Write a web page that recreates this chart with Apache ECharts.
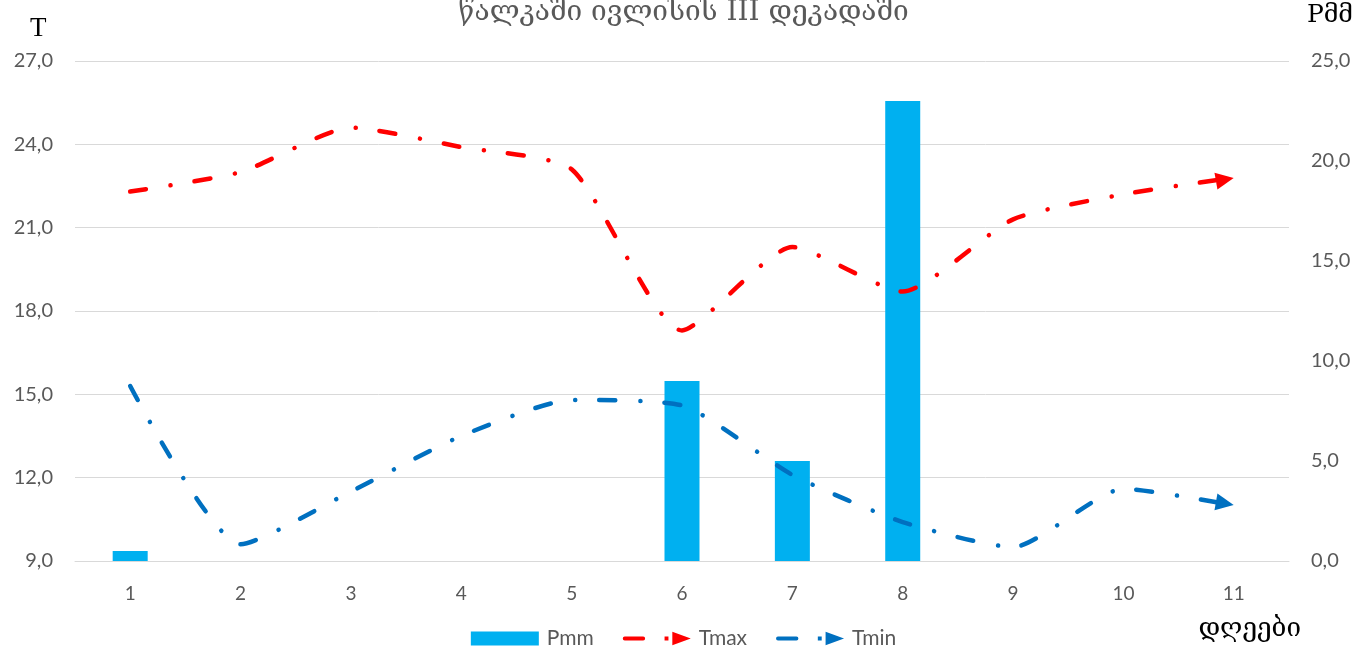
<!DOCTYPE html>
<html>
<head>
<meta charset="utf-8">
<title>წალკაში ივლისის III დეკადაში</title>
<script src="https://cdn.jsdelivr.net/npm/echarts@6/dist/echarts.min.js"></script>
<style>
  html, body { margin: 0; padding: 0; background: #fff; }
  #main { width: 1367px; height: 654px; }
</style>
</head>
<body>
<div id="main"></div>
<script>
// days of the third decade of July
var days = ['1', '2', '3', '4', '5', '6', '7', '8', '9', '10', '11'];
// precipitation, mm (right axis)
var pmm = [0.5, 0, 0, 0, 0, 9.0, 5.0, 23.0, 0, 0, 0];
// max / min temperature (left axis)
var tmax = [22.3, 23.0, 24.6, 23.9, 23.1, 17.3, 20.3, 18.7, 21.3, 22.2, 22.8];
var tmin = [15.3, 9.6, 11.5, 13.5, 14.8, 14.6, 12.1, 10.4, 9.5, 11.6, 11.0];

var labelFont = 'Lato, "Open Sans", sans-serif';
var georgianFont = '"DejaVu Serif", "DejaVu Sans", serif';
var dashDot = [16, 25, 0.1, 24];
// legend glyph: dash, dot, arrow head
var lineIcon = 'path://M2,5h19a2,2 0 0 1 0,4h-19a2,2 0 0 1 0,-4z M43,5h4v4h-4z M51,0L70,7L51,14z';

function comma(v) {
    return v.toFixed(1).replace('.', ',');
}

// only the last point gets an arrow head, tip sitting on the point
function withArrow(arr, rot, off) {
    return arr.map(function (v, i) {
        if (i < arr.length - 1) return v;
        return {
            value: v,
            symbol: 'triangle',
            symbolSize: [17, 18],
            symbolRotate: rot,
            symbolOffset: off
        };
    });
}

var myChart = echarts.init(document.getElementById('main'));

var option = {
    animation: false,
    title: {
        text: 'წალკაში ივლისის III დეკადაში',
        left: 'center',
        top: -6,
        textStyle: {
            fontFamily: georgianFont,
            fontWeight: 'normal',
            fontSize: 28,
            color: '#595959'
        }
    },
    grid: {
        left: 75,
        right: 78,
        top: 61,
        bottom: 93
    },
    legend: {
        bottom: 0,
        left: 'center',
        itemWidth: 68,
        itemHeight: 14,
        itemGap: 29,
        textStyle: {
            fontFamily: labelFont,
            fontSize: 21,
            color: '#595959',
            padding: [0, 0, 0, 3]
        },
        data: [
            { name: 'Pmm', icon: 'rect' },
            { name: 'Tmax', icon: lineIcon, itemStyle: { color: '#FF0000', borderWidth: 0 } },
            { name: 'Tmin', icon: lineIcon, itemStyle: { color: '#0070C0', borderWidth: 0 } }
        ]
    },
    xAxis: {
        type: 'category',
        data: days,
        boundaryGap: true,
        axisLine: { lineStyle: { color: '#D9D9D9', width: 1 } },
        axisTick: { show: false },
        axisLabel: {
            fontFamily: labelFont,
            fontSize: 19,
            color: '#595959',
            margin: 23
        }
    },
    yAxis: [
        {
            type: 'value',
            min: 9,
            max: 27,
            interval: 3,
            axisLine: { show: false },
            axisTick: { show: false },
            splitLine: { lineStyle: { color: '#D9D9D9', width: 1 } },
            axisLabel: {
                formatter: comma,
                fontFamily: labelFont,
                fontSize: 20,
                color: '#595959',
                margin: 22
            }
        },
        {
            type: 'value',
            min: 0,
            max: 25,
            interval: 5,
            axisLine: { show: false },
            axisTick: { show: false },
            splitLine: { show: false },
            axisLabel: {
                formatter: comma,
                fontFamily: labelFont,
                fontSize: 20,
                color: '#595959',
                margin: 22
            }
        }
    ],
    graphic: [
        {
            type: 'text', left: 30, top: 15,
            style: { text: 'T', font: '27px "Liberation Serif", serif', fill: '#000' }
        },
        {
            type: 'text', right: 14, top: 3,
            style: { text: 'Pმმ', font: '25px ' + georgianFont, fill: '#000' }
        },
        {
            type: 'text', right: 66, top: 616,
            style: { text: 'დღეები', font: '26px ' + georgianFont, fill: '#000' }
        }
    ],
    series: [
        {
            name: 'Pmm',
            type: 'bar',
            yAxisIndex: 1,
            barWidth: 35,
            itemStyle: { color: '#00B0F0' },
            data: pmm
        },
        {
            name: 'Tmax',
            type: 'line',
            yAxisIndex: 0,
            smooth: 0.2,
            symbol: 'none',
            itemStyle: { color: '#FF0000' },
            lineStyle: { color: '#FF0000', width: 4.5, type: dashDot, cap: 'round' },
            data: withArrow(tmax, -80, [-9, 2])
        },
        {
            name: 'Tmin',
            type: 'line',
            yAxisIndex: 0,
            smooth: 0.2,
            symbol: 'none',
            itemStyle: { color: '#0070C0' },
            lineStyle: { color: '#0070C0', width: 4.5, type: dashDot, cap: 'round' },
            data: withArrow(tmin, -100, [-9, -2])
        }
    ]
};

myChart.setOption(option);
</script>
</body>
</html>
